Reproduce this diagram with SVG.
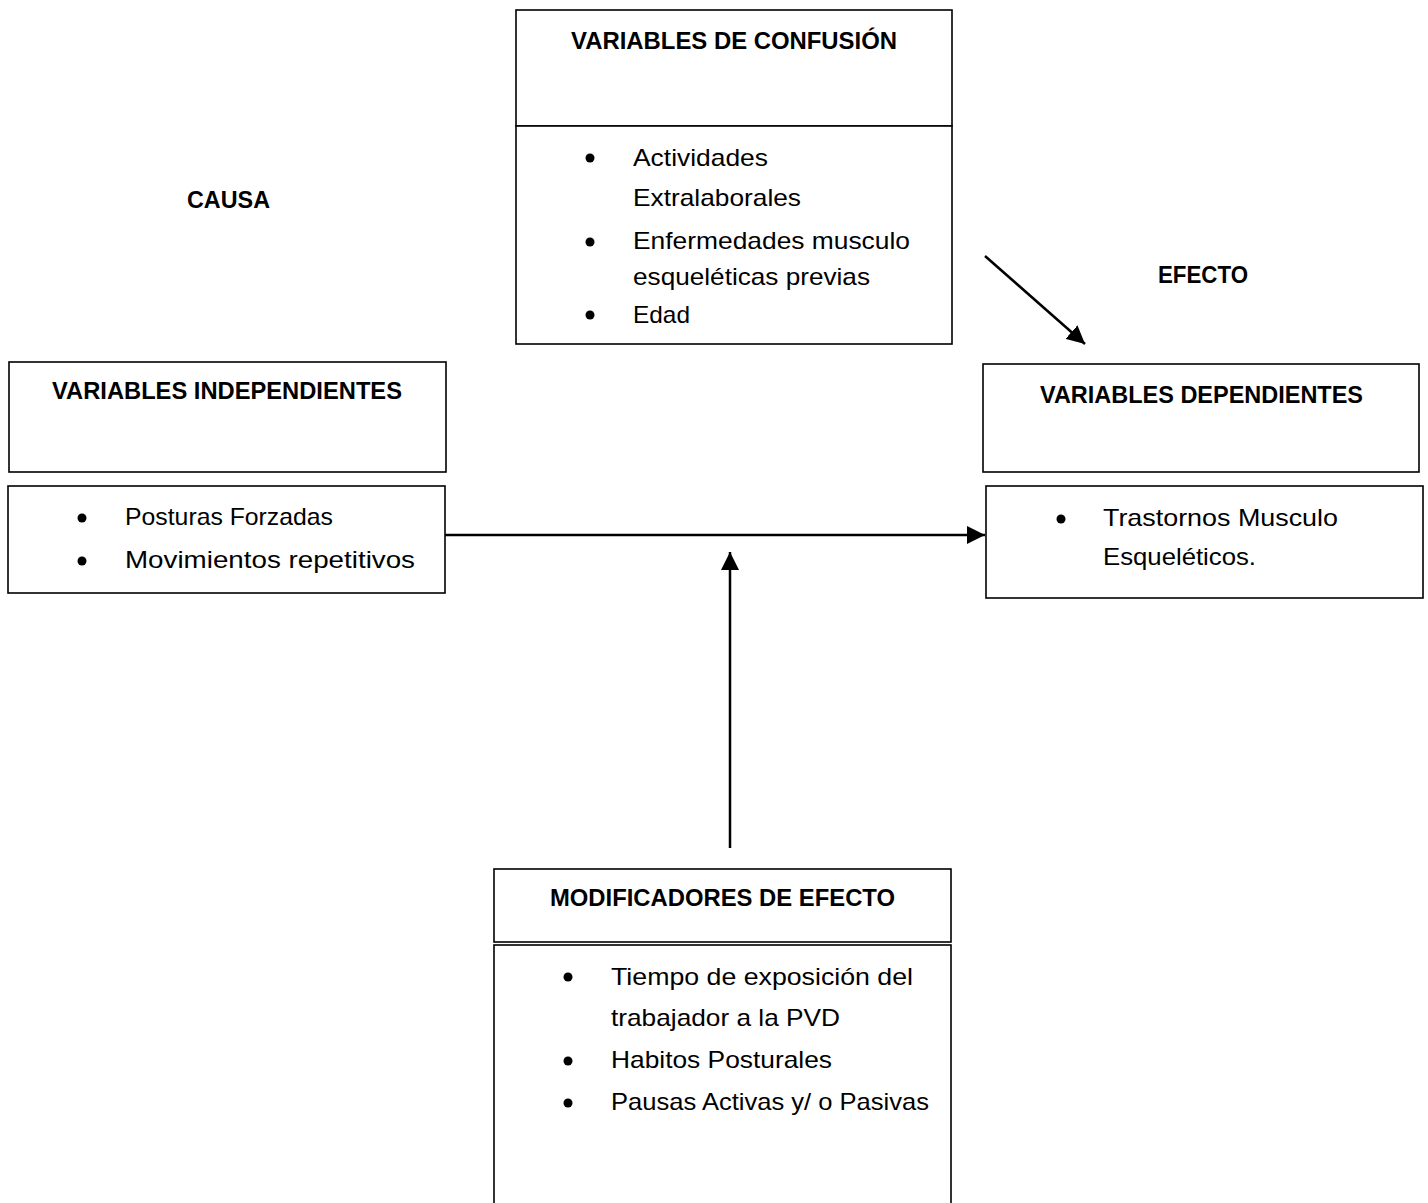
<svg xmlns="http://www.w3.org/2000/svg" width="1428" height="1203" viewBox="0 0 1428 1203">
<style>
.box{fill:#fff;stroke:#000;stroke-width:1.6}
.t{font-family:"Liberation Sans",Arial,sans-serif;font-size:24px;fill:#000}
.h{font-family:"Liberation Sans",Arial,sans-serif;font-size:23.5px;font-weight:bold;fill:#000}
.b{fill:#000}
.c{stroke:#000;stroke-width:2.5;fill:none}
</style>
<defs>
<marker id="ah" markerUnits="userSpaceOnUse" markerWidth="20" markerHeight="18" refX="18" refY="9" orient="auto">
<path d="M0,0 L18,9 L0,18 Z" fill="#000"/>
</marker>
</defs>
<rect width="1428" height="1203" fill="#fff"/>
<text class="h" x="187" y="208" textLength="83" lengthAdjust="spacingAndGlyphs">CAUSA</text>
<text class="h" x="1158" y="283" textLength="90" lengthAdjust="spacingAndGlyphs">EFECTO</text>
<g id="confusion">
<rect class="box" x="516" y="10" width="436" height="116"/>
<rect class="box" x="516" y="126" width="436" height="218"/>
<text class="h" x="571" y="49" textLength="326" lengthAdjust="spacingAndGlyphs">VARIABLES DE CONFUSIÓN</text>
<circle class="b" cx="590" cy="158" r="4.5"/>
<text class="t" x="633" y="166" textLength="135" lengthAdjust="spacingAndGlyphs">Actividades</text>
<text class="t" x="633" y="206" textLength="168" lengthAdjust="spacingAndGlyphs">Extralaborales</text>
<circle class="b" cx="590" cy="242" r="4.5"/>
<text class="t" x="633" y="249" textLength="277" lengthAdjust="spacingAndGlyphs">Enfermedades musculo</text>
<text class="t" x="633" y="285" textLength="237" lengthAdjust="spacingAndGlyphs">esqueléticas previas</text>
<circle class="b" cx="590" cy="315" r="4.5"/>
<text class="t" x="633" y="323" textLength="57" lengthAdjust="spacingAndGlyphs">Edad</text>
</g>
<g id="independientes">
<rect class="box" x="9" y="362" width="437" height="110"/>
<text class="h" x="52" y="399" textLength="350" lengthAdjust="spacingAndGlyphs">VARIABLES INDEPENDIENTES</text>
<rect class="box" x="8" y="486" width="437" height="107"/>
<circle class="b" cx="82" cy="518" r="4.5"/>
<text class="t" x="125" y="525" textLength="208" lengthAdjust="spacingAndGlyphs">Posturas Forzadas</text>
<circle class="b" cx="82" cy="561" r="4.5"/>
<text class="t" x="125" y="568" textLength="290" lengthAdjust="spacingAndGlyphs">Movimientos repetitivos</text>
</g>
<g id="dependientes">
<rect class="box" x="983" y="364" width="436" height="108"/>
<text class="h" x="1040" y="403" textLength="323" lengthAdjust="spacingAndGlyphs">VARIABLES DEPENDIENTES</text>
<rect class="box" x="986" y="486" width="437" height="112"/>
<circle class="b" cx="1061" cy="519" r="4.5"/>
<text class="t" x="1103" y="526" textLength="235" lengthAdjust="spacingAndGlyphs">Trastornos Musculo</text>
<text class="t" x="1103" y="565" textLength="153" lengthAdjust="spacingAndGlyphs">Esqueléticos.</text>
</g>
<g id="modificadores">
<rect class="box" x="494" y="869" width="457" height="73"/>
<rect class="box" x="494" y="945" width="457" height="270"/>
<text class="h" x="550" y="906" textLength="345" lengthAdjust="spacingAndGlyphs">MODIFICADORES DE EFECTO</text>
<circle class="b" cx="568" cy="977" r="4.5"/>
<text class="t" x="611" y="985" textLength="302" lengthAdjust="spacingAndGlyphs">Tiempo de exposición del</text>
<text class="t" x="611" y="1026" textLength="229" lengthAdjust="spacingAndGlyphs">trabajador a la PVD</text>
<circle class="b" cx="568" cy="1061" r="4.5"/>
<text class="t" x="611" y="1068" textLength="221" lengthAdjust="spacingAndGlyphs">Habitos Posturales</text>
<circle class="b" cx="568" cy="1103" r="4.5"/>
<text class="t" x="611" y="1110" textLength="318" lengthAdjust="spacingAndGlyphs">Pausas Activas y/ o Pasivas</text>
</g>
<g id="connectors">
<line class="c" x1="445" y1="535" x2="985" y2="535" marker-end="url(#ah)"/>
<line class="c" x1="730" y1="848" x2="730" y2="552" marker-end="url(#ah)"/>
<line class="c" x1="985" y1="256" x2="1085" y2="344" marker-end="url(#ah)"/>
</g>
</svg>
